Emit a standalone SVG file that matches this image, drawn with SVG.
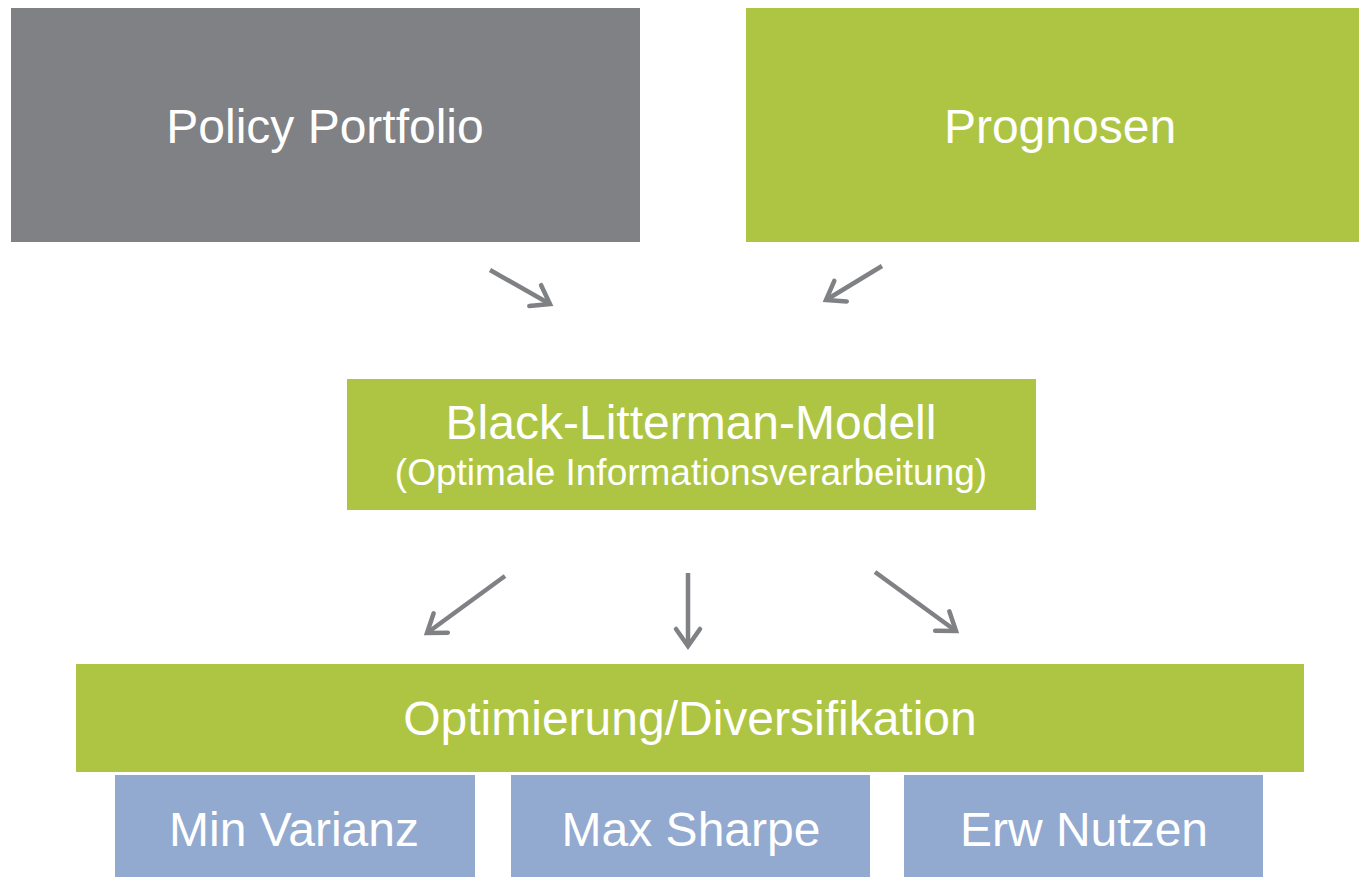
<svg xmlns="http://www.w3.org/2000/svg" width="1359" height="877" viewBox="0 0 1359 877">
  <style>
    .gray { fill: #7f8185; }
    .green { fill: #adc543; }
    .blue { fill: #92a9d0; }
    .lbl { font-family: "Liberation Sans", Arial, sans-serif; fill: #ffffff; text-anchor: middle; font-size: 48px; }
    .sub { font-size: 37px; }
    .conn { stroke: #7f8185; stroke-width: 4.5; fill: none; stroke-linecap: butt; }
  </style>
  <defs>
    <marker id="arrow" markerUnits="userSpaceOnUse" markerWidth="40" markerHeight="40" viewBox="-25 -20 30 40" refX="0" refY="0" orient="auto">
      <path d="M -17 -12 L 0 0 L -17 12" fill="none" stroke="#7f8185" stroke-width="4.5" stroke-linecap="round" stroke-linejoin="miter"/>
    </marker>
  </defs>
  <rect width="1359" height="877" fill="#ffffff"/>

  <g id="policy-portfolio">
    <rect class="gray" x="11" y="8" width="629" height="234"/>
    <text class="lbl" x="325" y="143">Policy Portfolio</text>
  </g>

  <g id="prognosen">
    <rect class="green" x="746" y="8" width="613" height="234"/>
    <text class="lbl" x="1060" y="143">Prognosen</text>
  </g>

  <g id="black-litterman">
    <rect class="green" x="347" y="379" width="689" height="131"/>
    <text class="lbl" x="691" y="439">Black-Litterman-Modell</text>
    <text class="lbl sub" x="691" y="485">(Optimale Informationsverarbeitung)</text>
  </g>

  <g id="optimierung">
    <rect class="green" x="76" y="664" width="1228" height="108"/>
    <text class="lbl" x="690" y="735">Optimierung/Diversifikation</text>
  </g>

  <g id="min-varianz">
    <rect class="blue" x="115" y="775" width="360" height="102"/>
    <text class="lbl" x="294" y="846">Min Varianz</text>
  </g>

  <g id="max-sharpe">
    <rect class="blue" x="511" y="775" width="359" height="102"/>
    <text class="lbl" x="691" y="846">Max Sharpe</text>
  </g>

  <g id="erw-nutzen">
    <rect class="blue" x="904" y="775" width="359" height="102"/>
    <text class="lbl" x="1084" y="846">Erw Nutzen</text>
  </g>

  <g id="connectors">
    <line class="conn" x1="490" y1="270" x2="550" y2="304" marker-end="url(#arrow)"/>
    <line class="conn" x1="882" y1="266" x2="826" y2="300" marker-end="url(#arrow)"/>
    <line class="conn" x1="505" y1="576" x2="427" y2="633" marker-end="url(#arrow)"/>
    <line class="conn" x1="688" y1="573" x2="688" y2="646" marker-end="url(#arrow)"/>
    <line class="conn" x1="875" y1="572" x2="956" y2="631" marker-end="url(#arrow)"/>
  </g>
</svg>
